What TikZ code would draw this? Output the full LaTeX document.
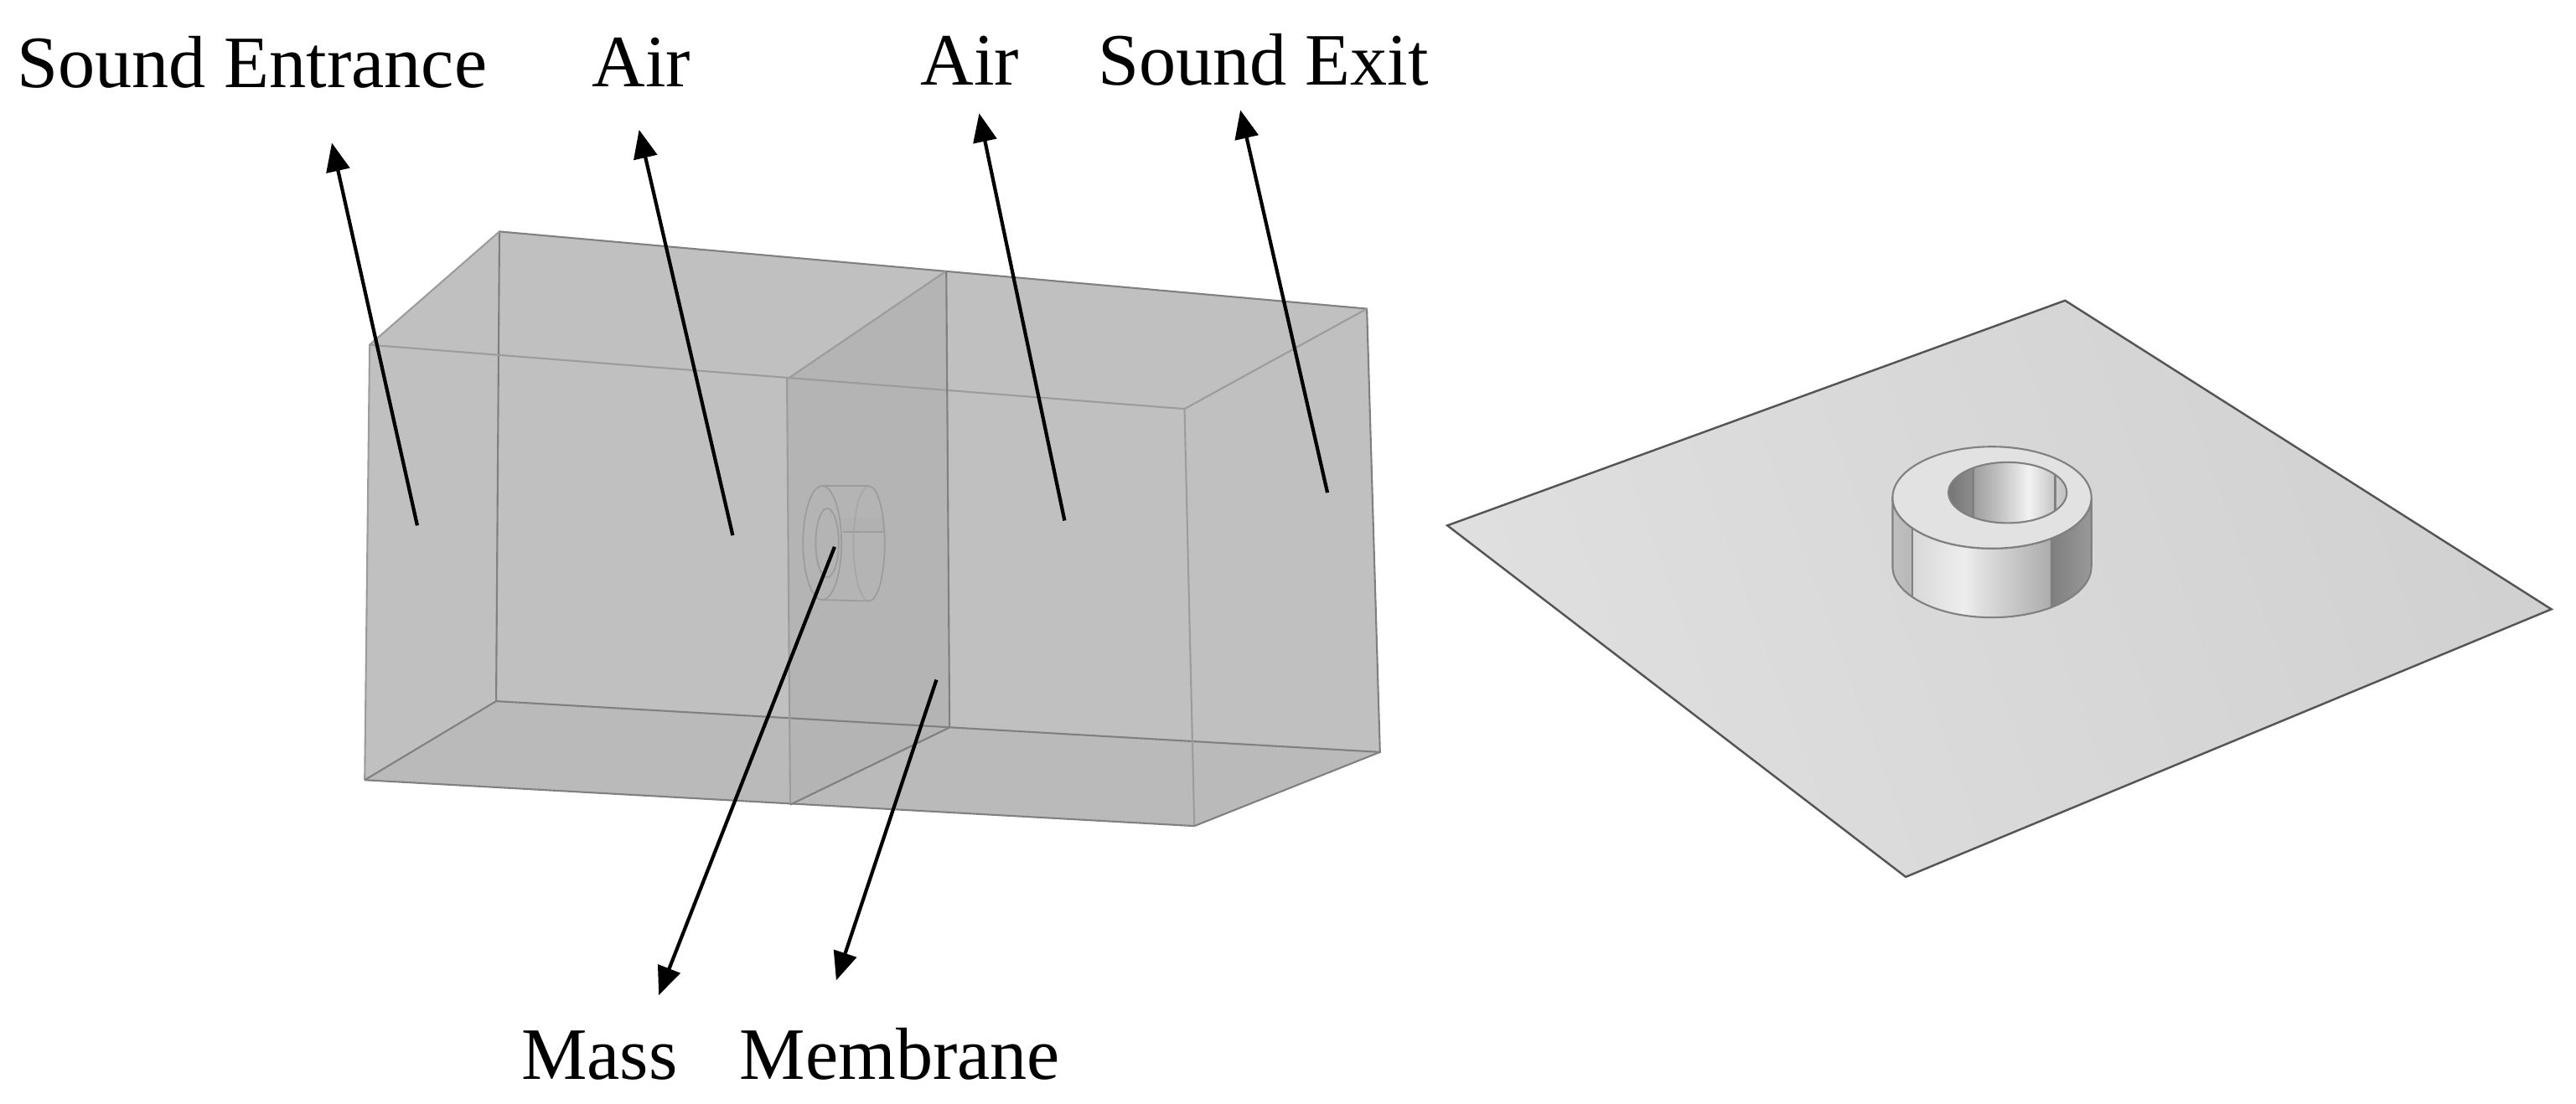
\documentclass[tikz,border=0pt]{standalone}
\usepackage{fontspec}
\setmainfont{Liberation Serif}
\usetikzlibrary{arrows.meta, positioning}
\definecolor{BoxFill}{HTML}{C0C0C0}
\definecolor{BoxFloor}{HTML}{BABABA}
\definecolor{BoxLine}{HTML}{808080}
\definecolor{BoxFront}{HTML}{9C9C9C}
\definecolor{MemFill}{HTML}{B4B4B4}
\definecolor{MassLine}{HTML}{9C9C9C}
\definecolor{PlateLine}{HTML}{555555}
\definecolor{PlateA}{HTML}{DFDFDF}
\definecolor{PlateB}{HTML}{D1D1D1}
\definecolor{RingTop}{HTML}{E2E2E2}
\pgfdeclarehorizontalshading{ringside}{100bp}{rgb(0bp)=(.75,.75,.75); rgb(25bp)=(.75,.75,.75); rgb(29.8bp)=(.72,.72,.72); rgb(30.2bp)=(.85,.85,.85); rgb(43bp)=(.93,.93,.93); rgb(50bp)=(.84,.84,.84); rgb(60bp)=(.73,.73,.73); rgb(64.5bp)=(.68,.68,.68); rgb(65bp)=(.50,.50,.50); rgb(75bp)=(.60,.60,.60); rgb(100bp)=(.60,.60,.60)}
\pgfdeclarehorizontalshading{ringhole}{100bp}{rgb(0bp)=(.46,.46,.46); rgb(25bp)=(.46,.46,.46); rgb(35bp)=(.55,.55,.55); rgb(35.6bp)=(.62,.62,.62); rgb(45bp)=(.74,.74,.74); rgb(59bp)=(.95,.95,.95); rgb(69.5bp)=(.78,.78,.78); rgb(70.5bp)=(.80,.80,.80); rgb(75bp)=(.76,.76,.76); rgb(100bp)=(.76,.76,.76)}
\tikzset{
  boxedge/.style={draw=BoxLine, line width=0.6pt},
  frontedge/.style={draw=BoxFront, line width=0.6pt},
  masswire/.style={draw=MassLine, line width=0.5pt},
  seam/.style={draw=gray, line width=0.7pt},
  pointer/.style={-{Triangle[length=3.4mm, width=2.8mm]}, line width=1.2pt, black},
  label/.style={anchor=base west, inner sep=0pt, font=\fontsize{25.1}{30}\selectfont}
}

\begin{document}
\begin{tikzpicture}[x=0.0196cm, y=-0.019613cm]
  % Keep the page at the size of the figure
  \useasboundingbox (0, 0) rectangle (1568, 672);

  % corners of the air box
  \coordinate (bTL) at (304, 141);
  \coordinate (bTR) at (832, 188);
  \coordinate (bBL) at (302, 427);
  \coordinate (bBR) at (840, 458);
  \coordinate (fTL) at (225, 210);
  \coordinate (fTR) at (721, 249);
  \coordinate (fBL) at (222, 475);
  \coordinate (fBR) at (727, 503);
  % membrane inside the box
  \coordinate (mTB) at (576, 165);
  \coordinate (mTF) at (479, 231);
  \coordinate (mBF) at (481, 490);
  \coordinate (mBB) at (578, 443);

  % faces
  \fill [BoxFill] (fBL) -- (fTL) -- (bTL) -- (bTR) -- (bBR) -- (fBR) -- cycle;
  \fill [BoxFloor] (fBL) -- (bBL) -- (bBR) -- (fBR) -- cycle;
  \fill [MemFill] (mTB) -- (mTF) -- (mBF) -- (mBB) -- cycle;

  % edges of the box
  \draw [boxedge] (bTL) -- (bTR) -- (bBR) -- (bBL) -- cycle;
  \draw [frontedge] (fBL) -- (fTL) -- (fTR) -- (fBR);
  \draw [boxedge] (fBL) -- (fBR);
  \draw [frontedge] (fTL) -- (bTL);
  \draw [frontedge] (fTR) -- (bTR);
  \draw [boxedge] (fBL) -- (bBL);
  \draw [boxedge] (fBR) -- (bBR);
  \draw [frontedge] (mTB) -- (mTF) -- (mBF);
  \draw [boxedge] (mBF) -- (mBB) -- (mTB);

  % mass, seen through the box
  \fill [MassLine, opacity=0.12] (513, 315) rectangle (538, 324);
  \draw [masswire] (500.5, 330.6) ellipse (11.7 and 34.7);
  \draw [masswire] (503.5, 330.6) ellipse (7 and 21);
  \draw [masswire] (529, 296) arc [start angle=-90, end angle=90, x radius=9.5, y radius=35];
  \draw [masswire, opacity=0.5] (529, 296) arc [start angle=270, end angle=90, x radius=9.5, y radius=35];
  \draw [masswire] (500.5, 296) -- (529, 296);
  \draw [masswire] (500.5, 365.3) -- (529, 366);
  \draw [masswire] (513, 324) -- (538, 324);

  % plate with the ring on it
  \coordinate (pT) at (1257, 183);
  \coordinate (pR) at (1553, 371);
  \coordinate (pB) at (1160, 534);
  \coordinate (pL) at (881, 320);
  \shade [draw=PlateLine, line width=0.7pt, left color=PlateA, right color=PlateB, shading angle=110] (pT) -- (pR) -- (pB) -- (pL) -- cycle;

  % ring, outer wall first
  \shade [shading=ringside, draw=BoxLine, line width=0.6pt] (1152, 303) -- (1152, 345) arc [start angle=180, end angle=0, x radius=60.5, y radius=31] -- (1273, 303) arc [start angle=0, end angle=180, x radius=60.5, y radius=31] -- cycle;
  \draw [seam] (1164, 321.6) -- (1164, 363.6);
  \draw [seam] (1249, 327.7) -- (1249, 369.7);
  \draw [boxedge, fill=RingTop] (1212.5, 303) ellipse (60.5 and 31);
  \shade [shading=ringhole, draw=BoxLine, line width=0.6pt] (1222, 300) ellipse (36 and 18.5);
  \draw [seam] (1201, 285) -- (1201, 315);
  \draw [seam] (1251, 289) -- (1251, 311);

  % labels
  \node [label] (entranceL) at (10, 53.5) {Sound Entrance};
  \node [label] (airA) at (360, 52.7) {Air};
  \node [label] (airB) at (560, 52) {Air};
  \node [label] (exitL) at (668, 52) {Sound Exit};
  \node [label] (massL) at (317, 657) {Mass};
  \node [label] (memL) at (450, 657) {Membrane};

  % start and tip of each pointer
  \coordinate (entranceS) at (254, 320);
  \coordinate (entranceT) at (202, 87);
  \coordinate (airAS) at (446, 326);
  \coordinate (airAT) at (389, 79);
  \coordinate (airBS) at (648, 317);
  \coordinate (airBT) at (596, 69);
  \coordinate (exitS) at (808, 300);
  \coordinate (exitT) at (755, 67);
  \coordinate (massS) at (508, 333);
  \coordinate (massT) at (401, 606);
  \coordinate (memS) at (570, 414);
  \coordinate (memT) at (509, 597);

  % pointers later so they overlap the box
  \draw [pointer] (entranceS) -- (entranceT);
  \draw [pointer] (airAS) -- (airAT);
  \draw [pointer] (airBS) -- (airBT);
  \draw [pointer] (exitS) -- (exitT);
  \draw [pointer] (massS) -- (massT);
  \draw [pointer] (memS) -- (memT);
\end{tikzpicture}
\end{document}
